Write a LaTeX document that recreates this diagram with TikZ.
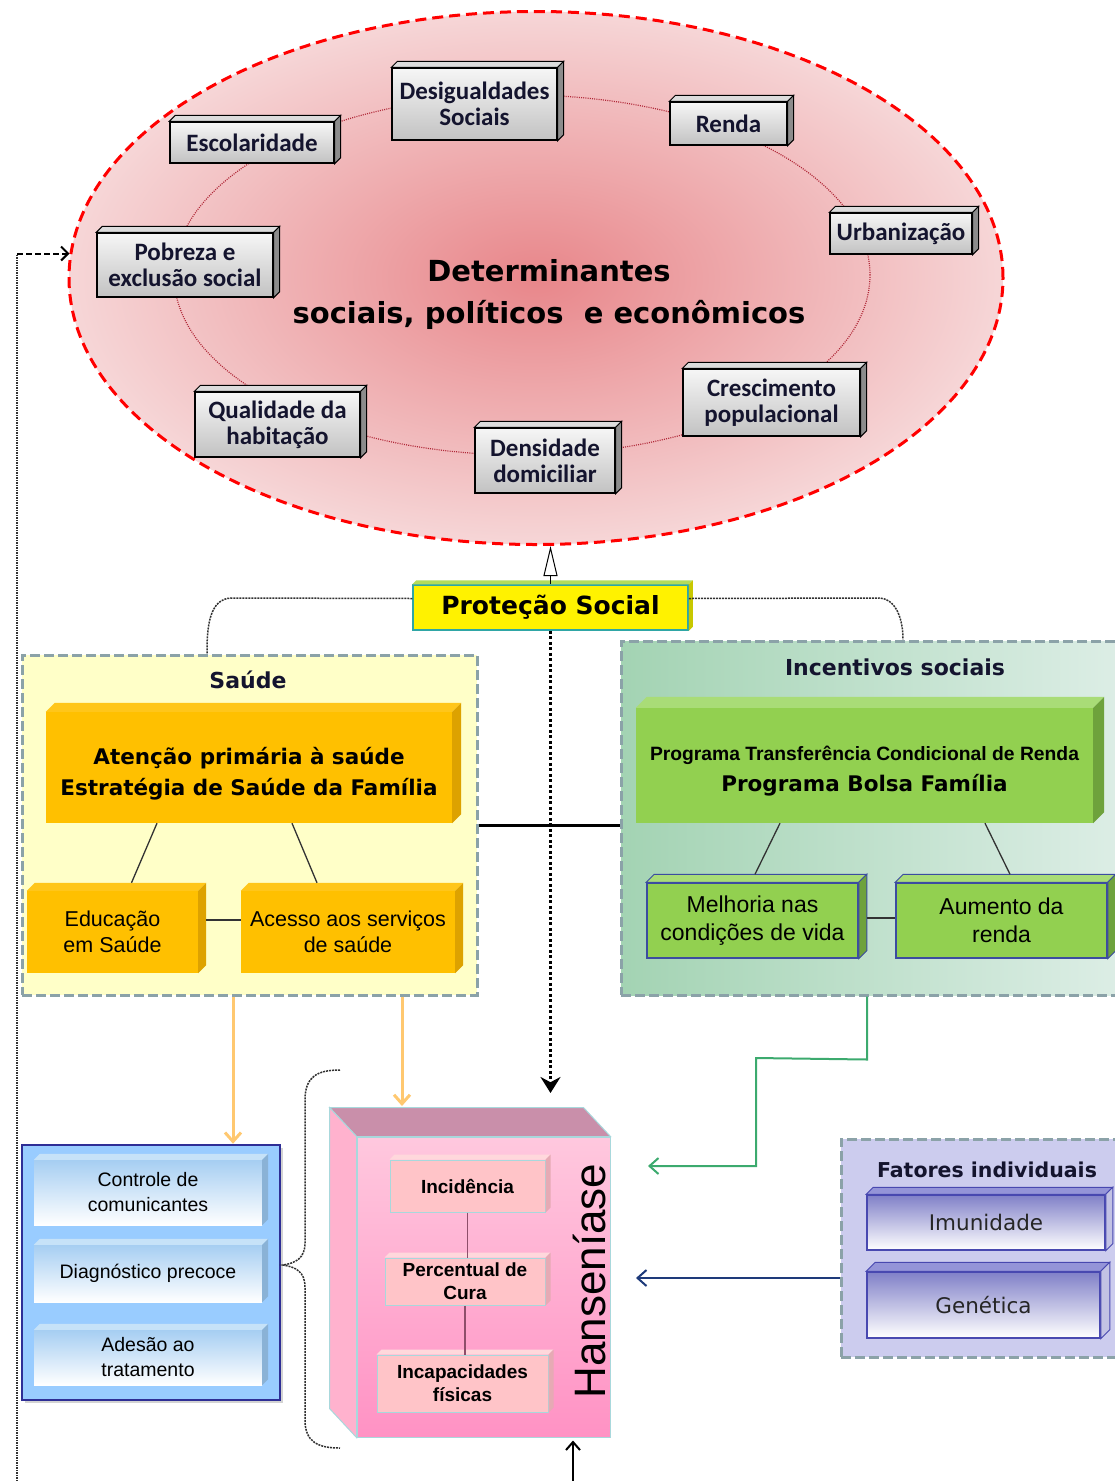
\documentclass[tikz,border=0pt]{standalone}
\usepackage{fontspec}
\setmainfont{DejaVu Sans}
\newfontfamily\carl{Carlito}
\newfontfamily\lib{Liberation Sans}
\usetikzlibrary{shapes.geometric,arrows.meta,shadows}
\definecolor{ellin}{HTML}{E8868A}
\definecolor{ellout}{HTML}{F6D6D7}
\definecolor{ringc}{HTML}{B02838}
\definecolor{detT}{HTML}{F6F6F6}
\definecolor{detB}{HTML}{C2C2C2}
\definecolor{detTop}{HTML}{DCDCDC}
\definecolor{detSide}{HTML}{8C8C8C}
\definecolor{dettext}{HTML}{14142E}
\definecolor{protB}{HTML}{2FA6A6}
\definecolor{protTop}{HTML}{B4DC5A}
\definecolor{protSide}{HTML}{C8C800}
\definecolor{grpB}{HTML}{8BA2A8}
\definecolor{saudeF}{HTML}{FFFFC8}
\definecolor{orng}{HTML}{FFC000}
\definecolor{orngTop}{HTML}{FFC61A}
\definecolor{orngSide}{HTML}{DDA200}
\definecolor{incL}{HTML}{A3D3B3}
\definecolor{incR}{HTML}{DDEEE6}
\definecolor{grn}{HTML}{92D050}
\definecolor{grnTop}{HTML}{A9DC77}
\definecolor{grnSide}{HTML}{6EA23C}
\definecolor{grnB}{HTML}{3C4CA0}
\definecolor{blueF}{HTML}{99CCFF}
\definecolor{blueB}{HTML}{2E2E96}
\definecolor{bluInT}{HTML}{A6CEF2}
\definecolor{bluInTop}{HTML}{C6E2F8}
\definecolor{bluInSide}{HTML}{8AB2D6}
\definecolor{hansA}{HTML}{FF92C4}
\definecolor{hansB}{HTML}{FFC8DE}
\definecolor{hansTop}{HTML}{C98FAA}
\definecolor{hansSide}{HTML}{FFB2CE}
\definecolor{hansBd}{HTML}{A8D8DC}
\definecolor{pinkF}{HTML}{FFC4C8}
\definecolor{pinkTop}{HTML}{FFD8DC}
\definecolor{pinkSide}{HTML}{E6AAB4}
\definecolor{pinkLine}{HTML}{8E4E6A}
\definecolor{fatF}{HTML}{CCCCEE}
\definecolor{fatT}{HTML}{8080C8}
\definecolor{fatB}{HTML}{4848B0}
\definecolor{fatTop}{HTML}{9494D8}
\definecolor{fatSide}{HTML}{C2C2E4}
\definecolor{orArr}{HTML}{FFC870}
\definecolor{grArr}{HTML}{3CAA6E}
\definecolor{navy}{HTML}{1E3A7A}
\definecolor{dotc}{HTML}{303030}
\newcommand\bev[5][draw=none]{%
  \filldraw[fill=#4,#1] (#2.north west) -- ++(#3,#3) -- ([shift={(#3,#3)}]#2.north east) -- (#2.north east) -- cycle;
  \filldraw[fill=#5,#1] (#2.north east) -- ++(#3,#3) -- ([shift={(#3,#3)}]#2.south east) -- (#2.south east) -- cycle;}
\begin{document}
\begin{tikzpicture}[x=1pt,y=-1pt,
  detbox/.style={draw=black, line width=1.3pt, top color=detT, bottom color=detB, inner sep=0pt, align=center, text=dettext, font=\carl\bfseries\fontsize{25}{26}\selectfont},
  grpbox/.style={draw=grpB, line width=3pt, dash pattern=on 10pt off 4pt, inner sep=0pt},
  grptitle/.style={font=\bfseries\fontsize{22}{26}\selectfont, text=dettext, inner sep=0pt},
  orbox/.style={fill=orng, inner sep=0pt, align=center, text=black},
  grbox/.style={fill=grn, inner sep=0pt, align=center, text=black},
  bluein/.style={top color=bluInT, bottom color=white, inner sep=0pt, align=center, font=\lib\fontsize{19.5}{25}\selectfont},
  pinkin/.style={fill=pinkF, draw=hansBd, line width=1pt, inner sep=0pt, align=center, font=\lib\bfseries\fontsize{19}{23}\selectfont},
  fatin/.style={top color=fatT, bottom color=white, draw=fatB, line width=1.5pt, inner sep=0pt, font=\fontsize{21.5}{26}\selectfont, text=black!85},
  treeline/.style={draw=black!80, line width=1.3pt},
  protline/.style={draw=dotc, line width=1.5pt, dash pattern=on 2pt off 1pt},
  barb/.style={-{Straight Barb[length=9pt,width=16pt]}}
]
\useasboundingbox (0,0) rectangle (1115,1481);

% ---------------- Determinants ellipse
\node[ellipse, draw=red, line width=3pt, dash pattern=on 11pt off 6pt, inner color=ellin, outer color=ellout, minimum width=934pt, minimum height=533pt, inner sep=0pt] (det) at (536,278) {};
\draw[ringc, line width=1.2pt, dash pattern=on 1pt off 1.2pt] (522,275) ellipse [x radius=348pt, y radius=180pt];
\node[font=\bfseries\fontsize{29}{42}\selectfont, align=center, text=black] (dettitle) at (549,294) {Determinantes\\sociais, políticos\ \ e econômicos};

\node[detbox, minimum width=165pt, minimum height=72pt] (desig) at (474.5,104) {Desigualdades\\Sociais};
\bev[draw=black,line width=1pt]{desig}{6pt}{detTop}{detSide}
\node[detbox, minimum width=164pt, minimum height=41pt] (escol) at (252,142.5) {Escolaridade};
\bev[draw=black,line width=1pt]{escol}{6pt}{detTop}{detSide}
\node[detbox, minimum width=117pt, minimum height=43pt] (renda) at (728.5,123.5) {Renda};
\bev[draw=black,line width=1pt]{renda}{6pt}{detTop}{detSide}
\node[detbox, minimum width=142pt, minimum height=41pt] (urban) at (901,233.5) {Urbanização};
\bev[draw=black,line width=1pt]{urban}{6pt}{detTop}{detSide}
\node[detbox, minimum width=176pt, minimum height=64pt] (pobreza) at (185,265) {Pobreza e\\exclusão social};
\bev[draw=black,line width=1pt]{pobreza}{6pt}{detTop}{detSide}
\node[detbox, minimum width=165pt, minimum height=65pt] (qualid) at (277.5,424.5) {Qualidade da\\habitação};
\bev[draw=black,line width=1pt]{qualid}{6pt}{detTop}{detSide}
\node[detbox, minimum width=140pt, minimum height=65pt] (densid) at (545,460.5) {Densidade\\domiciliar};
\bev[draw=black,line width=1pt]{densid}{6pt}{detTop}{detSide}
\node[detbox, minimum width=177pt, minimum height=67pt] (cresc) at (771.5,402.5) {Crescimento\\populacional};
\bev[draw=black,line width=1pt]{cresc}{6pt}{detTop}{detSide}

% ---------------- Protecao Social
\node[draw=protB, line width=1.5pt, fill=yellow, minimum width=275pt, minimum height=45pt, inner sep=0pt, font=\bfseries\fontsize{25}{30}\selectfont] (prot) at (550.5,607.5) {Proteção Social};
\bev{prot}{4pt}{protTop}{protSide}
\draw[black, line width=1pt, -{Triangle[open,length=30pt,width=14pt]}] (prot.north) -- (prot.north |- det.south);

% ---------------- Saude group
\node[grpbox, fill=saudeF, minimum width=455pt, minimum height=340pt] (saude) at (249.5,825) {};
\node[grptitle] (saudet) at (248,680) {Saúde};
\node[orbox, minimum width=406pt, minimum height=111pt, font=\bfseries\fontsize{21.5}{31}\selectfont] (atn) at (249,767.5) {\rule{0pt}{30pt}Atenção primária à saúde\\Estratégia de Saúde da Família};
\bev{atn}{9pt}{orngTop}{orngSide}
\node[orbox, minimum width=171pt, minimum height=82pt, font=\lib\fontsize{21.5}{26}\selectfont] (educ) at (112.5,932) {Educação\\em Saúde};
\bev{educ}{8pt}{orngTop}{orngSide}
\node[orbox, minimum width=214pt, minimum height=82pt, font=\lib\fontsize{21.5}{26}\selectfont] (acesso) at (348,932) {Acesso aos serviços\\de saúde};
\bev{acesso}{8pt}{orngTop}{orngSide}
\draw[treeline] ([xshift=-92pt]atn.south) -- ([xshift=19pt,yshift=8pt]educ.north);
\draw[treeline] ([xshift=43pt]atn.south) -- ([xshift=-31pt,yshift=8pt]acesso.north);
\draw[treeline] ([xshift=8pt,yshift=12pt]educ.east) -- ([yshift=12pt]acesso.west);

% ---------------- Incentivos group
\node[grpbox, left color=incL, right color=incR, minimum width=504pt, minimum height=354pt] (inc) at (873,818) {};
\node[grptitle] (inct) at (895,667) {Incentivos sociais};
\node[grbox, minimum width=457pt, minimum height=115pt] (pbf) at (864.5,765.5) {{\lib\bfseries\fontsize{19.3}{22}\selectfont\rule{0pt}{26pt}Programa Transferência Condicional de Renda}\\[9pt]{\bfseries\fontsize{21.5}{26}\selectfont Programa Bolsa Família}};
\bev{pbf}{11pt}{grnTop}{grnSide}
\node[grbox, draw=grnB, line width=1.5pt, minimum width=211pt, minimum height=75pt, font=\lib\fontsize{23}{28}\selectfont] (melh) at (752.5,920.5) {Melhoria nas\\condições de vida};
\bev[draw=grnB,line width=1pt]{melh}{8pt}{grnTop}{grnSide}
\node[grbox, draw=grnB, line width=1.5pt, minimum width=211pt, minimum height=75pt, font=\lib\fontsize{23}{28}\selectfont] (aum) at (1001.5,920.5) {Aumento da\\renda};
\bev[draw=grnB,line width=1pt]{aum}{8pt}{grnTop}{grnSide}
\draw[treeline] ([xshift=-84.5pt]pbf.south) -- ([xshift=2.5pt,yshift=8pt]melh.north);
\draw[treeline] ([xshift=120.5pt]pbf.south) -- ([xshift=8.5pt,yshift=8pt]aum.north);
\draw[treeline] ([xshift=8pt,yshift=2.5pt]melh.east) -- ([yshift=2.5pt]aum.west);

% thick link between groups
\draw[black, line width=3pt] (saude.east) -- (saude.east -| inc.west);

% dotted branches from Protecao
\draw[protline] ([yshift=9pt]prot.west) -- (232,598) to[out=180,in=90] ([xshift=-42.5pt]saude.north);
\draw[protline] ([yshift=9pt]prot.east) -- (878,598) to[out=0,in=90] ([xshift=30pt]inc.north);

% ---------------- Blue box
\node[draw=blueB, line width=2.5pt, fill=blueF, drop shadow={opacity=0.35}, minimum width=258pt, minimum height=255pt, inner sep=0pt] (blue) at (151,1272.5) {};
\node[bluein, minimum width=228pt, minimum height=65pt] (contr) at (148,1192.5) {Controle de\\comunicantes};
\bev{contr}{6pt}{bluInTop}{bluInSide}
\node[bluein, minimum width=228pt, minimum height=57pt] (diag) at (148,1273.5) {Diagnóstico precoce};
\bev{diag}{6pt}{bluInTop}{bluInSide}
\node[bluein, minimum width=228pt, minimum height=55pt] (ades) at (148,1357.5) {Adesão ao\\tratamento};
\bev{ades}{6pt}{bluInTop}{bluInSide}

% brace
\draw[protline] (340,1070) .. controls (318,1070) and (305,1076) .. (305,1100) -- (305,1243) .. controls (305,1258) and (296,1263) .. (283,1265) .. controls (296,1267) and (305,1272) .. (305,1287) -- (305,1420) .. controls (305,1442) and (318,1448) .. (340,1448);

% ---------------- Hanseniase block
\node[top color=hansB, bottom color=hansA, draw=hansBd, line width=1pt, minimum width=253pt, minimum height=300pt, inner sep=0pt] (hans) at (483.5,1287) {};
\filldraw[fill=hansTop, draw=hansBd, line width=1pt] (hans.north west) -- ++(-27pt,29pt) -- ([shift={(-27pt,29pt)}]hans.north east) -- (hans.north east) -- cycle;
\filldraw[fill=hansSide, draw=hansBd, line width=1pt] (hans.north west) -- ++(-27pt,29pt) -- ([shift={(-27pt,29pt)}]hans.south west) -- (hans.south west) -- cycle;
\node[rotate=90, font=\lib\fontsize{44}{50}\selectfont, text=black, inner sep=0pt] (hanst) at (590,1281) {Hanseníase};
\node[pinkin, minimum width=155pt, minimum height=52pt] (incid) at (467.5,1186) {Incidência};
\bev{incid}{5pt}{pinkTop}{pinkSide}
\node[pinkin, minimum width=160pt, minimum height=47pt] (perc) at (465,1281.5) {Percentual de\\Cura};
\bev{perc}{5pt}{pinkTop}{pinkSide}
\node[pinkin, minimum width=171pt, minimum height=57pt] (incap) at (462.5,1383.5) {Incapacidades\\físicas};
\bev{incap}{5pt}{pinkTop}{pinkSide}
\draw[pinkLine, line width=1.5pt] (incid.south) -- (incid.south |- perc.north);
\draw[pinkLine, line width=1.5pt] (perc.south) -- (perc.south |- incap.north);

% ---------------- Fatores individuais
\node[grpbox, fill=fatF, minimum width=284pt, minimum height=218pt] (fat) at (983,1248) {};
\node[grptitle, font=\bfseries\fontsize{20.5}{24}\selectfont] (fatt) at (987,1170) {Fatores individuais};
\node[fatin, minimum width=238pt, minimum height=55pt] (imun) at (986,1222.5) {Imunidade};
\bev[draw=fatB,line width=1pt]{imun}{7pt}{fatTop}{fatSide}
\node[fatin, minimum width=233pt, minimum height=66pt] (genet) at (983.5,1305) {Genética};
\bev[draw=fatB,line width=1pt]{genet}{9pt}{fatTop}{fatSide}

% ---------------- connectors
\coordinate (hansarr) at (550.5,1093);
\coordinate (hanstopc) at (402,1106);
\coordinate (greenend) at (648,1166);
\coordinate (navyend) at (636,1278);
\coordinate (botstart) at (573,1481);
\coordinate (fbstart) at (17,1481);

\draw[black, line width=3.5pt, dash pattern=on 3pt off 2.5pt, -{Stealth[length=16pt,width=20pt]}] (prot.south) -- (hansarr);
\draw[orArr, line width=3pt, barb] ([xshift=-16.5pt]saude.south) -- ([xshift=82pt]blue.north);
\draw[orArr, line width=3pt, barb] ([xshift=152.5pt]saude.south) -- (hanstopc);
\draw[grArr, line width=2pt, barb] ([xshift=-6pt]inc.south) -- ++(0,63) -- (756,1058) -- (756,1166) -- (greenend);
\draw[navy, line width=2pt, barb] ([yshift=-30pt]fat.west) -- (navyend);
\draw[black, line width=2pt, -{Straight Barb[length=8pt,width=14pt]}] (botstart) -- ([xshift=89.5pt,yshift=-3pt]hans.south);
\draw[dotc, line width=2pt, dash pattern=on 1.5pt off 1pt] (fbstart) -- (fbstart |- det.177.3);
\draw[black, line width=2pt, dash pattern=on 6pt off 3pt, -{Straight Barb[length=7pt,width=14pt]}] (fbstart |- det.177.3) -- (det.177.3);
\end{tikzpicture}
\end{document}
